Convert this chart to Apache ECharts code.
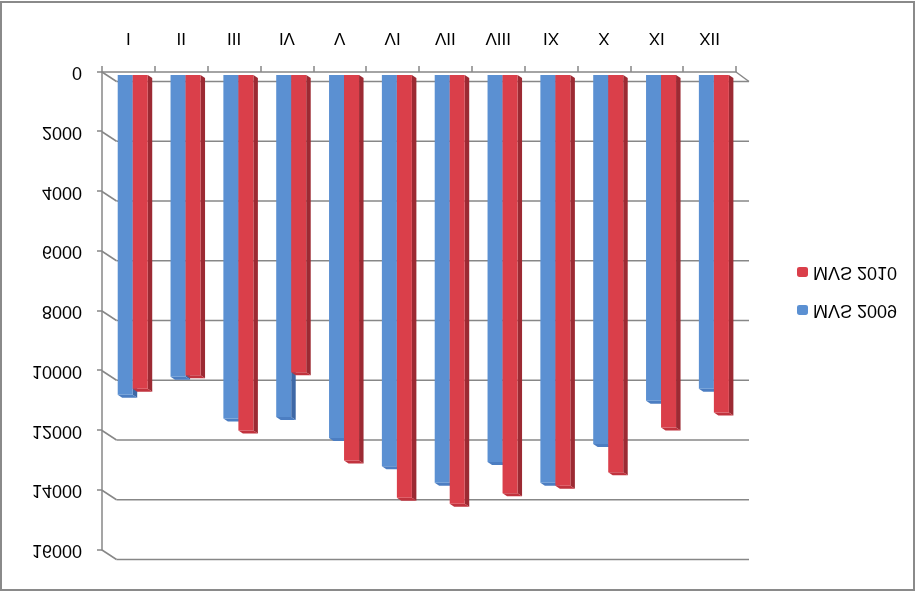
<!DOCTYPE html>
<html>
<head>
<meta charset="utf-8">
<script src="https://cdn.jsdelivr.net/npm/echarts@6/dist/echarts.min.js"></script>
<style>
html,body{margin:0;padding:0;background:#fff;}
#chart{width:916px;height:591px;transform:scaleY(-1);transform-origin:50% 50%;}
</style>
</head>
<body>
<div id="chart"></div>
<script>
// Data (the reference image is a vertically mirrored chart; we render normally and mirror the page)
var months = ['I','II','III','IV','V','VI','VII','VIII','IX','X','XI','XII'];
var seriesNames = ['MVS 2009','MVS 2010'];
var mvs2009 = [10700, 10100, 11500, 11450, 12150, 13100, 13650, 12950, 13650, 12350, 10900, 10500];
var mvs2010 = [10500, 10050, 11900, 9950, 12900, 14150, 14350, 14000, 13750, 13300, 11800, 11300];
var yTicks = [0, 2000, 4000, 6000, 8000, 10000, 12000, 14000, 16000];

var FONT = '"Liberation Sans", Arial, sans-serif';
var GRID_COLOR = '#878787';
var WALL_DX = 14.5, WALL_DY = 9.5;   // 3D depth of back wall
var BAR_OX = 4.3, BAR_OY = 3;        // bar front offset
var BAR_DX = 4.5, BAR_DY = 3;        // bar depth
var colors = [
  {front:'#5B90D2', side:'#3E68A6', top:'#4C7EC2'},
  {front:'#DA3F4A', side:'#9C2A33', top:'#C1333E'}
];

function wallItem(params, api) {
  var v = api.value(1);
  var p = api.coord([0, v]);
  var band = api.size([1, 0])[0];
  var pr = api.coord([months.length - 1, v]);
  var xL = p[0] - band / 2, xR = pr[0] + band / 2, y = p[1];
  var st = {stroke: GRID_COLOR, lineWidth: 1.5, fill: null};
  var children = [
    {type:'line', shape:{x1:xL, y1:y, x2:xL + WALL_DX, y2:y - WALL_DY}, style:st},
    {type:'line', shape:{x1:xL + WALL_DX, y1:y - WALL_DY, x2:xR + WALL_DX - 1.5, y2:y - WALL_DY}, style:st}
  ];
  if (v === 0) {
    children.push({type:'line', shape:{x1:xR, y1:y, x2:xR + WALL_DX - 1.5, y2:y - WALL_DY}, style:st});
  }
  return {type:'group', children:children};
}

function makeBarRenderer(s) {
  return function (params, api) {
    var cat = api.value(0), v = api.value(1);
    var p0 = api.coord([cat, 0]);
    var p1 = api.coord([cat, v]);
    var band = api.size([1, 0])[0];
    var W = band * 0.284;
    var x0 = p0[0] + BAR_OX - W + s * W, x1 = x0 + W;
    var yb = p0[1] - BAR_OY, yt = p1[1] - BAR_OY;
    var c = colors[s];
    return {type:'group', children:[
      {type:'polygon', shape:{points:[[x1,yb],[x1,yt],[x1+BAR_DX,yt-BAR_DY],[x1+BAR_DX,yb-BAR_DY]]}, style:{fill:c.side}},
      {type:'polygon', shape:{points:[[x0,yt],[x1,yt],[x1+BAR_DX,yt-BAR_DY],[x0+BAR_DX,yt-BAR_DY]]}, style:{fill:c.top}},
      {type:'rect', shape:{x:x0, y:yt, width:W, height:yb - yt}, style:{fill:c.front}}
    ]};
  };
}

var chart = echarts.init(document.getElementById('chart'), null, {renderer:'canvas'});
chart.setOption({
  backgroundColor:'#ffffff',
  animation:false,
  textStyle:{fontFamily:FONT},
  graphic:[{type:'rect', shape:{x:1, y:1, width:913, height:588}, style:{fill:null, stroke:'#8a8a8a', lineWidth:2}, z:0}],
  legend:{
    data:seriesNames, orient:'vertical', left:792, top:266,
    itemWidth:11, itemHeight:10, itemGap:18,
    textStyle:{fontSize:18, color:'#000', fontFamily:FONT, lineHeight:20}
  },
  grid:{left:102, width:634, top:41, height:478},
  xAxis:{
    type:'category', data:months, boundaryGap:true,
    axisLine:{lineStyle:{color:GRID_COLOR, width:1.5}},
    axisTick:{show:true, length:6, lineStyle:{color:GRID_COLOR, width:1.5}},
    axisLabel:{fontSize:17, color:'#000', margin:26, fontFamily:FONT},
    splitLine:{show:false}
  },
  yAxis:{
    type:'value', min:0, max:16000, interval:2000,
    axisLine:{show:true, lineStyle:{color:GRID_COLOR, width:1.5}},
    axisTick:{show:true, length:5, lineStyle:{color:GRID_COLOR, width:1.5}},
    axisLabel:{fontSize:18, color:'#000', margin:20, fontFamily:FONT,
      formatter:function(v){return String(v);}},
    splitLine:{show:false}
  },
  series:[
    {name:'walls', type:'custom', z:1, silent:true, renderItem:wallItem,
     data:yTicks.map(function(v){return [0, v];})},
    {name:seriesNames[0], type:'custom', z:3, renderItem:makeBarRenderer(0),
     itemStyle:{color:colors[0].front},
     data:mvs2009.map(function(v,i){return [i, v];})},
    {name:seriesNames[1], type:'custom', z:4, renderItem:makeBarRenderer(1),
     itemStyle:{color:colors[1].front},
     data:mvs2010.map(function(v,i){return [i, v];})}
  ]
});
</script>
</body>
</html>
